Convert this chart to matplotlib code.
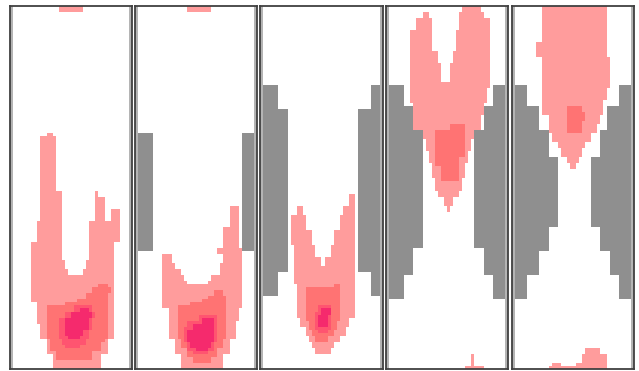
import numpy as np
import matplotlib
matplotlib.use("Agg")
import matplotlib.pyplot as plt
from matplotlib.colors import ListedColormap

# grid size of every panel (cells)
n_rows = 120
n_cols = 40

# cell states: 0 empty, 1 edge, 2 wall, 3..6 concentration levels (low -> high)
# spans are (row_from, row_to, col_from, col_to), inclusive, row 0 at the top

# --- panel 1 ---
p1_wall = []
p1_lvl1 = [(0, 1, 16, 23), (42, 42, 12, 13), (43, 60, 10, 14),
           (61, 62, 10, 16), (61, 62, 28, 28),
           (63, 66, 10, 16), (63, 66, 28, 30),
           (67, 70, 10, 16), (67, 70, 28, 30), (67, 70, 33, 35),
           (71, 77, 9, 16), (71, 77, 26, 35),
           (78, 83, 7, 16), (78, 83, 26, 33),
           (84, 86, 7, 17), (84, 86, 25, 33),
           (87, 88, 7, 18), (87, 88, 24, 33),
           (89, 97, 7, 33), (98, 104, 9, 33), (105, 109, 10, 33),
           (110, 114, 12, 31), (115, 119, 14, 29)]
p1_lvl2 = [(92, 92, 29, 31), (93, 94, 27, 32), (95, 96, 25, 31), (97, 97, 22, 31),
           (98, 98, 18, 31), (99, 109, 12, 31), (110, 110, 13, 30),
           (111, 113, 13, 29), (114, 116, 15, 26)]
p1_lvl3 = [(99, 100, 21, 26), (101, 102, 18, 27), (103, 106, 16, 26),
           (107, 109, 16, 25), (110, 111, 17, 24), (112, 112, 18, 22)]
p1_lvl4 = [(100, 100, 23, 25), (101, 102, 20, 26), (103, 106, 18, 25),
           (107, 108, 18, 23), (109, 109, 19, 22)]

# --- panel 2 ---
p2_wall = [(42, 80, 1, 5), (42, 80, 35, 38)]
p2_lvl1 = [(0, 1, 17, 24), (66, 72, 31, 33), (73, 79, 29, 33), (80, 81, 27, 34),
           (82, 84, 9, 11), (82, 84, 29, 34),
           (85, 86, 9, 12), (85, 86, 28, 34),
           (87, 88, 9, 14), (87, 88, 28, 34),
           (89, 90, 9, 15), (89, 90, 25, 34),
           (91, 91, 9, 16), (91, 91, 24, 34),
           (92, 99, 9, 34), (100, 103, 11, 33), (104, 109, 11, 32),
           (110, 114, 13, 30), (115, 119, 15, 28)]
p2_lvl2 = [(94, 95, 26, 28), (96, 96, 24, 29), (97, 97, 22, 29), (98, 98, 18, 29),
           (99, 109, 14, 29), (110, 112, 15, 28), (113, 115, 17, 26), (116, 117, 19, 24)]
p2_lvl3 = [(102, 103, 21, 26), (104, 105, 17, 26), (106, 110, 16, 26),
           (111, 113, 17, 25), (114, 114, 19, 23)]
p2_lvl4 = [(103, 104, 22, 25), (105, 106, 19, 25), (107, 110, 17, 25),
           (111, 112, 18, 24), (113, 113, 20, 23)]

# --- panel 3 ---
p3_wall = [(26, 33, 1, 5), (34, 87, 1, 8), (88, 95, 1, 5),
           (26, 33, 36, 38), (34, 87, 32, 38), (88, 95, 36, 38)]
p3_lvl1 = [(62, 65, 29, 30),
           (66, 68, 12, 13), (66, 68, 27, 30),
           (69, 73, 10, 14), (69, 73, 26, 30),
           (74, 78, 10, 16), (74, 78, 24, 30),
           (79, 82, 11, 17), (79, 82, 23, 30),
           (83, 85, 11, 19), (83, 85, 21, 30),
           (86, 91, 11, 30), (92, 102, 12, 30), (103, 105, 13, 28),
           (106, 108, 15, 27), (109, 110, 16, 25), (111, 112, 17, 23), (113, 114, 18, 22)]
p3_lvl2 = [(92, 92, 24, 25), (93, 103, 15, 25), (104, 106, 16, 24),
           (107, 108, 17, 23), (109, 110, 18, 21)]
p3_lvl3 = [(99, 100, 19, 22), (101, 106, 18, 22), (107, 107, 19, 21)]
p3_lvl4 = [(100, 101, 20, 22), (102, 105, 19, 21)]

# --- panel 4 ---
p4_wall = [(26, 32, 1, 5), (33, 40, 1, 8), (41, 79, 1, 11), (80, 88, 1, 8), (89, 96, 1, 5),
           (26, 32, 35, 38), (33, 40, 32, 38), (41, 79, 29, 38), (80, 88, 32, 38), (89, 96, 35, 38)]
p4_lvl1 = [(0, 1, 25, 30),
           (2, 3, 12, 13), (2, 3, 24, 31),
           (4, 7, 10, 14), (4, 7, 24, 33),
           (8, 14, 8, 14), (8, 14, 23, 33),
           (15, 18, 8, 16), (15, 18, 22, 33),
           (19, 24, 8, 17), (19, 24, 21, 33),
           (25, 26, 8, 19), (25, 26, 20, 33),
           (27, 31, 8, 32), (32, 35, 9, 31), (36, 40, 9, 30),
           (41, 43, 12, 28), (44, 47, 13, 27), (48, 51, 14, 26), (52, 56, 15, 25),
           (57, 60, 16, 24), (61, 62, 17, 23), (63, 65, 19, 21), (66, 67, 20, 20),
           (115, 118, 28, 28), (119, 119, 26, 31)]
p4_lvl2 = [(39, 40, 21, 25), (41, 49, 16, 25), (50, 52, 16, 23), (53, 57, 18, 23)]
p4_lvl3 = []
p4_lvl4 = []

# --- panel 5 ---
p5_wall = [(26, 32, 1, 4), (33, 40, 1, 8), (41, 49, 1, 11), (50, 72, 1, 14),
           (73, 80, 1, 11), (81, 88, 1, 8), (89, 96, 1, 4),
           (26, 32, 35, 38), (33, 40, 31, 38), (41, 49, 29, 38), (50, 72, 26, 38),
           (73, 80, 29, 38), (81, 88, 32, 38), (89, 96, 35, 38)]
p5_lvl1 = [(0, 11, 10, 30), (12, 16, 8, 30), (17, 26, 10, 31), (27, 30, 10, 30),
           (31, 35, 10, 29), (36, 38, 12, 28), (39, 41, 12, 27), (42, 44, 13, 25),
           (45, 46, 15, 23), (47, 49, 16, 22), (50, 51, 18, 21), (52, 53, 19, 20),
           (113, 114, 24, 28), (115, 117, 23, 30), (118, 118, 13, 15),
           (118, 118, 21, 30), (119, 119, 12, 30)]
p5_lvl2 = [(33, 34, 18, 22), (35, 37, 18, 23), (38, 41, 18, 22)]
p5_lvl3 = []
p5_lvl4 = []

panels = [
    (p1_wall, p1_lvl1, p1_lvl2, p1_lvl3, p1_lvl4),
    (p2_wall, p2_lvl1, p2_lvl2, p2_lvl3, p2_lvl4),
    (p3_wall, p3_lvl1, p3_lvl2, p3_lvl3, p3_lvl4),
    (p4_wall, p4_lvl1, p4_lvl2, p4_lvl3, p4_lvl4),
    (p5_wall, p5_lvl1, p5_lvl2, p5_lvl3, p5_lvl4),
]

# state colours: empty, edge, wall, level 1..4
state_colors = ['#ffffff', '#b4b4b4', '#8f8f8f', '#ff9c9c', '#ff7373', '#ff5470', '#f52a6d']
cmap = ListedColormap(state_colors)

# panel frames in pixels (left, right), figure 639 x 371
frame_x = [(10, 132), (135, 257), (260, 383), (386, 508), (512, 634)]
frame_top = 6
frame_bottom = 369
W, H = 639, 371

fig = plt.figure(figsize=(W / 100, H / 100), dpi=100)

for k, layers in enumerate(panels):
    grid = np.zeros((n_rows, n_cols), dtype=int)
    grid[:, 0] = 1
    grid[:, -1] = 1
    for state, spans in enumerate(layers, start=2):
        for r0, r1, c0, c1 in spans:
            grid[r0:r1 + 1, c0:c1 + 1] = state

    x0, x1 = frame_x[k]
    ax = fig.add_axes([x0 / W, 1 - frame_bottom / H, (x1 - x0) / W, (frame_bottom - frame_top) / H])
    ax.imshow(grid, cmap=cmap, vmin=0, vmax=len(state_colors) - 1,
              interpolation='none', aspect='auto')
    ax.set_xticks([])
    ax.set_yticks([])
    for sp in ax.spines.values():
        sp.set_color('#404040')
        sp.set_linewidth(1.3)

fig.savefig('out.png', dpi=100)
